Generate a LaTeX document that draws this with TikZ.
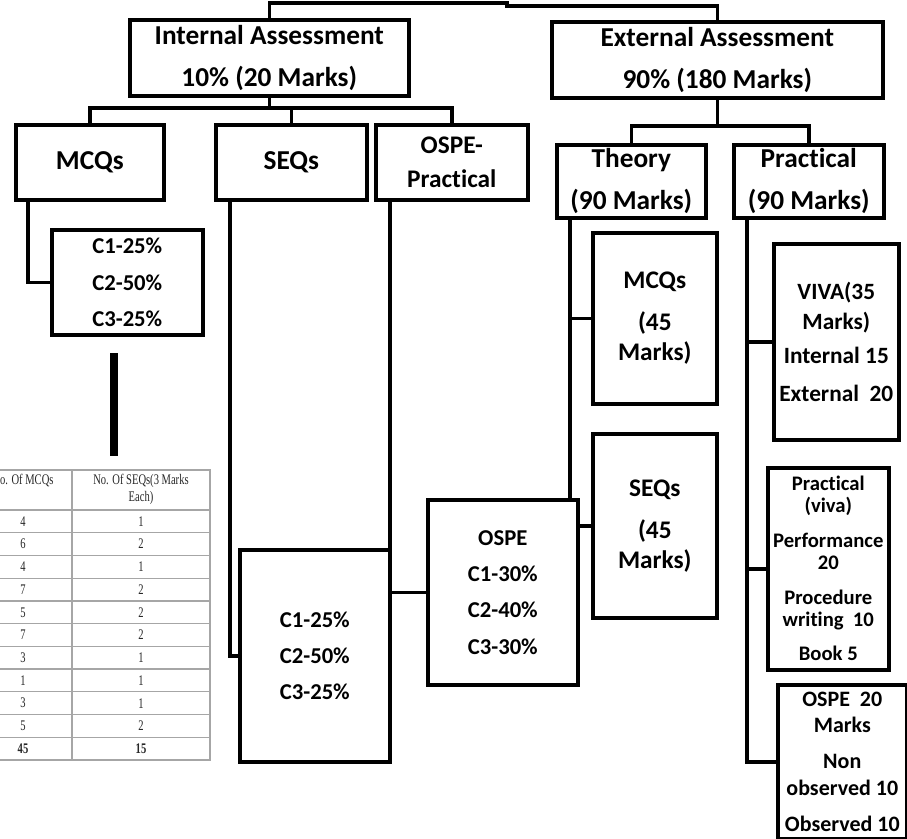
\documentclass[tikz,border=0pt]{standalone}
\usepackage{fontspec}
\setmainfont{Carlito}[Ligatures=NoCommon]
\newfontfamily\tabfont[FakeStretch=0.72]{Liberation Serif}
\usetikzlibrary{calc}
\begin{document}
\begin{tikzpicture}[x=0.75pt,y=-0.75pt,line join=miter]
\tikzset{
  box/.style={draw=black,line width=2.7pt,inner sep=0pt,align=center,anchor=north west,fill=white},
  wh/.style 2 args={minimum width={#1*0.75pt},minimum height={#2*0.75pt}},
  link/.style={draw=black,line width=2.6pt},
  tgrid/.style={draw=black!35,line width=0.9pt},
  tcell/.style={font=\tabfont\fontsize{11pt}{12.5pt}\selectfont,text=black!85,inner sep=0pt,align=center},
  fA/.style={font=\bfseries\fontsize{20.5pt}{31.5pt}\selectfont},
  fB/.style={font=\bfseries\fontsize{19pt}{26pt}\selectfont},
  fC/.style={font=\bfseries\fontsize{17pt}{27.3pt}\selectfont},
  fD/.style={font=\bfseries\fontsize{19pt}{22.5pt}\selectfont},
  fE/.style={font=\bfseries\fontsize{17.5pt}{22pt}\selectfont},
  fF/.style={font=\bfseries\fontsize{15.5pt}{16.5pt}\selectfont},
  fG/.style={font=\bfseries\fontsize{16.5pt}{20pt}\selectfont},
}
\useasboundingbox (0,0) rectangle (907,839);

% ---------- table (partly cut at the left border) ----------
\begin{scope}
\clip (0,0) rectangle (907,839);
\draw[tgrid] (-26,470) rectangle (210,760);
\draw[tgrid] (72,470) -- (72,760);
\draw[tgrid] (-26,510) -- (210,510);
\foreach \k in {1,...,10}{
  \draw[tgrid] (-26,{510+\k*250/11}) -- (210,{510+\k*250/11});
}
\node[tcell,anchor=north] (hm) at (23,474) {No. Of MCQs};
\node[tcell,anchor=north] (hs) at (141,474) {No. Of SEQs(3 Marks\\Each)};
\foreach \m/\s [count=\i] in {4/1,6/2,4/1,7/2,5/2,7/2,3/1,1/1,3/1,5/2}{
  \node[tcell] (m\i) at (23,{510+(\i-0.5)*250/11}) {\m};
  \node[tcell] (s\i) at (141,{510+(\i-0.5)*250/11}) {\s};
}
\node[tcell,font=\tabfont\bfseries\fontsize{11pt}{12.5pt}\selectfont] (mt) at (23,{510+10.5*250/11}) {45};
\node[tcell,font=\tabfont\bfseries\fontsize{11pt}{12.5pt}\selectfont] (st) at (141,{510+10.5*250/11}) {15};
\end{scope}

% ---------- thick bar ----------
\draw[line width=6.5pt] (114,353) -- (114,456);

% ---------- boxes ----------
\node[box,fA,wh={279}{76}] (ia) at (128,18) {Internal Assessment\\10\% (20 Marks)};
\node[box,fA,wh={331}{76}] (ea) at (550,20) {External Assessment\\90\% (180 Marks)};

\node[box,fA,wh={148}{75}] (mcq) at (14,123) {MCQs};
\node[box,fA,wh={151}{75}] (seq) at (214,123) {SEQs};
\node[box,fB,wh={152}{75}] (opr) at (374,123) {OSPE-\\Practical};

\node[box,fC,wh={151}{105}] (cb1) at (50,228) {C1-25\%\\C2-50\%\\C3-25\%};
\node[box,fC,wh={150}{212}] (cb2) at (238,548) {C1-25\%\\C2-50\%\\C3-25\%};
\node[box,fC,wh={150}{185}] (osp) at (426,498) {OSPE\\C1-30\%\\C2-40\%\\C3-30\%};

\node[box,fA,wh={149}{73}] (th) at (555,143) {Theory\\(90 Marks)};
\node[box,fA,wh={150}{73}] (pr) at (732,143) {Practical\\(90 Marks)};

\node[box,fD,wh={124}{171}] (tmcq) at (591,231) {MCQs\\[9pt](45\\Marks)};
\node[box,fD,wh={124}{184}] (tseq) at (591,432) {SEQs\\[9pt](45\\Marks)};

\node[box,fE,wh={125}{196}] (viva) at (772,242) {VIVA(35\\Marks)\\[4pt]Internal 15\\[6pt]External~~20};
\node[box,fF,wh={121}{202}] (pv) at (766,466) {Practical\\(viva)\\[9.5pt]Performance\\20\\[9.5pt]Procedure\\writing~~10\\[9.5pt]Book 5};
\node[box,fG,wh={129}{154}] (o20) at (776,683) {OSPE~~20\\Marks\\[7pt]Non\\observed 10\\[7pt]Observed 10};

% ---------- connectors ----------
\coordinate (tj1) at (507,3);
\coordinate (tj2) at (507,6);
\draw[link] (ia.north) |- (tj1) -- (tj2) -| (ea.north);

\coordinate (ib) at (0,108);
\draw[link] (ia.south) -- (ia.south |- ib);
\draw[link] (mcq.north) |- (opr.north |- ib) -- (opr.north);
\draw[link] (seq.north) -- (seq.north |- ib);

\coordinate (eb) at (0,126);
\draw[link] (ea.south) -- (ea.south |- eb);
\draw[link] (th.north) |- (pr.north |- eb) -- (pr.north);

\coordinate (mx) at ($(mcq.south west)+(14,0)$);
\draw[link] (mx) |- (cb1.west);
\coordinate (sx) at ($(seq.south west)+(16,0)$);
\draw[link] (sx) |- (cb2.west);
\coordinate (ox) at ($(opr.south west)+(16,0)$);
\draw[link] (ox) |- (osp.west);

\coordinate (thx) at ($(th.south west)+(15,0)$);
\draw[link] (thx) -- (thx |- osp.north);
\draw[link] (thx |- tmcq.west) -- (tmcq.west);
\draw[link] (osp.east |- tseq.west) -- (tseq.west);

\coordinate (prx) at ($(pr.south west)+(15,0)$);
\draw[link] (prx) |- (o20.west);
\draw[link] (prx |- viva.west) -- (viva.west);
\draw[link] (prx |- pv.west) -- (pv.west);
\end{tikzpicture}
\end{document}
